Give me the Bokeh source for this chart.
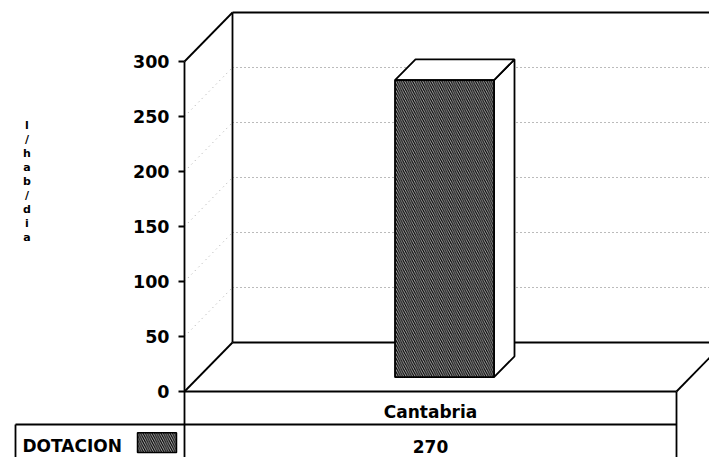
from bokeh.plotting import figure
from bokeh.models import Range1d
from bokeh.core.properties import value
from bokeh.embed import file_html
from bokeh.resources import INLINE

# ---- data ----
categories = ["Cantabria"]
dotacion = [270]
series_name = "DOTACION"
y_ticks = [0, 50, 100, 150, 200, 250, 300]
y_label = "l/hab/dia"

# ---- layout constants (pixels / value units) ----
W, H = 709, 457
PXU = 1.1                 # pixels per value unit
LEFT = 184                # pixels left of the value axis
Y0 = 66                   # pixels from bottom to value 0
DX = 48                   # depth offset in px (x)
DY = 49 / PXU             # depth offset in value units (y)
COL_W = 492               # width of the category area in px
ROW_H = 30                # table row height in value units
TABLE_LEFT = -169
FONT = value("DejaVu Sans")

ymax = y_ticks[-1]
xmax = W - LEFT

p = figure(width=W, height=H, output_backend="svg", toolbar_location=None,
           x_range=Range1d(-LEFT, xmax), y_range=Range1d(-Y0 / PXU, (H - Y0) / PXU),
           x_axis_type=None, y_axis_type=None, min_border=0,
           outline_line_color=None, background_fill_color="white")

inner = y_ticks[1:-1]
# back-wall dotted grid lines
p.segment(x0=[DX] * len(inner), y0=[t + DY for t in inner],
          x1=[xmax] * len(inner), y1=[t + DY for t in inner],
          line_color="#777777", line_width=1, line_dash="1 3")
# side-wall dotted grid lines
p.segment(x0=[0] * len(inner), y0=inner, x1=[DX] * len(inner), y1=[t + DY for t in inner],
          line_color="#aaaaaa", line_width=1, line_dash="1 4")

LW = 1.8
# walls / floor frame
fx0 = [0, 0, 0, DX, DX, DX, 0, COL_W]
fy0 = [ymax, ymax, 0, DY, ymax + DY, DY, 0, 0]
fx1 = [0, DX, DX, DX, xmax, xmax, COL_W, COL_W + DX]
fy1 = [-2 * ROW_H - 10, ymax + DY, DY, ymax + DY, ymax + DY, DY, 0, DY]
p.segment(x0=fx0, y0=fy0, x1=fx1, y1=fy1, line_color="black", line_width=LW)

# table lines
tx0 = [TABLE_LEFT, TABLE_LEFT, COL_W]
ty0 = [-ROW_H, -ROW_H, 0]
tx1 = [COL_W, TABLE_LEFT, COL_W]
ty1 = [-ROW_H, -2 * ROW_H - 10, -2 * ROW_H - 10]
p.segment(x0=tx0, y0=ty0, x1=tx1, y1=ty1, line_color="black", line_width=LW)

# ticks
p.segment(x0=[-6] * len(y_ticks), y0=y_ticks, x1=[0] * len(y_ticks), y1=y_ticks,
          line_color="black", line_width=LW)
p.text(x=[-15] * len(y_ticks), y=y_ticks, text=[str(t) for t in y_ticks],
       text_align="right", text_baseline="middle", text_font=FONT,
       text_font_style="bold", text_font_size="17.5px", text_color="black")

# axis label stacked letters
p.text(x=[-157.5], y=[191], text=["\n".join(list(y_label))],
       text_align="center", text_baseline="middle", text_font=FONT,
       text_font_style="bold", text_font_size="11px", text_line_height=1.08,
       text_color="black")

# 3D bars
n = len(categories)
cw = COL_W / n
HW = 49.5
D0, D1 = 14, 34.5
r = DY / DX
for i, v in enumerate(dotacion):
    xc = (i + 0.5) * cw
    l0, r0 = xc - HW + D0, xc + HW + D0
    l1, r1 = xc - HW + D1, xc + HW + D1
    b0, b1 = D0 * r, D1 * r
    # right face
    p.patch(x=[r0, r1, r1, r0], y=[b0, b1, v + b1, v + b0],
            fill_color="white", line_color="black", line_width=LW)
    # top face
    p.patch(x=[l0, r0, r1, l1], y=[v + b0, v + b0, v + b1, v + b1],
            fill_color="white", line_color="black", line_width=LW)
    # front face
    p.quad(left=[l0], right=[r0], bottom=[b0], top=[v + b0],
           fill_color="black", hatch_pattern="\\", hatch_color="white",
           hatch_weight=0.7, hatch_scale=4.5, line_color="black", line_width=LW)

# table texts
p.text(x=[(i + 0.5) * cw for i in range(n)], y=[-18.6] * n, text=categories,
       text_align="center", text_baseline="middle", text_font=FONT,
       text_font_style="bold", text_font_size="17px", text_color="black")
p.text(x=[(i + 0.5) * cw for i in range(n)], y=[-50] * n,
       text=[str(v) for v in dotacion],
       text_align="center", text_baseline="middle", text_font=FONT,
       text_font_style="bold", text_font_size="17px", text_color="black")
p.text(x=[-162], y=[-49.5], text=[series_name],
       text_align="left", text_baseline="middle", text_font=FONT,
       text_font_style="bold", text_font_size="17px", text_color="black")
# legend swatch
p.quad(left=[-47], right=[-8], bottom=[-55.5], top=[-37.5],
       fill_color="black", hatch_pattern="\\", hatch_color="white",
       hatch_weight=0.7, hatch_scale=4.5, line_color="black", line_width=1.5)

open("out.html", "w").write(file_html(p, INLINE))
